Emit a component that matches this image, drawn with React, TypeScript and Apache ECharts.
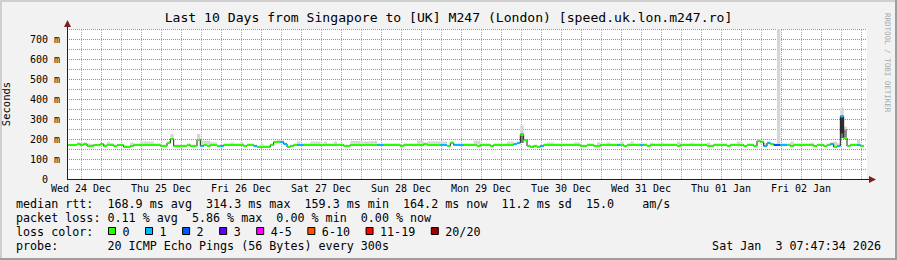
import React, { useEffect, useRef } from "react";
import * as echarts from "echarts";

// ---- data (hours since Wed 24 Dec 07:47:34) ----
const median = [
  170, 170, 170, 175, 170, 175, 165, 165, 170, 170,
  175, 165, 170, 170, 165, 170, 170, 160, 160, 165,
  170, 170, 170, 170, 170, 170, 170, 170, 165, 165,
  180, 200, 165, 165, 165, 165, 170, 165, 165, 197,
  165, 170, 165, 170, 170, 165, 165, 170, 170, 170,
  170, 170, 170, 165, 170, 170, 165, 160, 160, 160,
  160, 170, 185, 185, 185, 175, 160, 165, 170, 170,
  170, 170, 170, 170, 170, 170, 170, 170, 170, 170,
  170, 170, 170, 165, 165, 170, 170, 170, 170, 170,
  170, 170, 170, 170, 170, 170, 170, 170, 170, 170,
  165, 170, 170, 170, 170, 170, 170, 175, 170, 170,
  170, 170, 170, 170, 165, 180, 170, 170, 170, 170,
  170, 170, 170, 165, 170, 170, 170, 165, 170, 170,
  170, 170, 170, 170, 175, 180, 222, 195, 165, 160,
  165, 160, 165, 170, 170, 170, 170, 170, 170, 170,
  170, 170, 170, 170, 165, 165, 170, 170, 165, 165,
  170, 170, 170, 170, 170, 170, 170, 165, 170, 170,
  170, 170, 170, 170, 165, 170, 170, 170, 170, 170,
  170, 170, 170, 165, 170, 170, 170, 170, 170, 170,
  170, 170, 165, 165, 170, 170, 170, 170, 165, 170,
  170, 170, 170, 165, 170, 170, 165, 190, 185, 165,
  180, 175, 170, 170, 170, 170, 170, 165, 170, 170,
  170, 170, 170, 170, 165, 170, 170, 165, 170, 175,
  160, 165, 314, 205, 165, 170, 170, 170, 165,
];

const loss = [
  0, 0, 0, 0, 0, 0, 0, 0, 0, 0,
  0, 0, 0, 0, 0, 0, 0, 0, 0, 0,
  0, 0, 0, 0, 0, 0, 0, 0, 0, 0,
  0, 0, 0, 0, 0, 0, 0, 0, 0, 0,
  1, 0, 0, 0, 0, 0, 1, 0, 0, 0,
  0, 0, 0, 0, 0, 0, 1, 0, 0, 0,
  0, 0, 0, 0, 1, 1, 0, 0, 0, 1,
  1, 0, 0, 0, 0, 0, 0, 0, 0, 0,
  0, 0, 0, 0, 0, 0, 0, 0, 0, 0,
  0, 0, 0, 1, 1, 0, 0, 0, 0, 0,
  0, 0, 0, 0, 0, 0, 0, 0, 0, 0,
  0, 0, 1, 1, 0, 0, 1, 1, 1, 0,
  0, 0, 0, 0, 0, 0, 0, 0, 0, 0,
  0, 0, 0, 0, 1, 1, 0, 0, 0, 0,
  0, 0, 1, 0, 0, 0, 0, 0, 0, 0,
  0, 0, 0, 0, 0, 0, 0, 0, 0, 0,
  0, 0, 0, 0, 0, 1, 0, 0, 0, 0,
  0, 0, 1, 0, 0, 0, 0, 0, 0, 0,
  0, 0, 0, 0, 0, 0, 0, 0, 0, 0,
  0, 0, 0, 0, 0, 0, 0, 0, 0, 0,
  0, 0, 0, 0, 0, 0, 0, 0, 0, 1,
  1, 0, 2, 2, 1, 1, 0, 0, 0, 0,
  0, 0, 0, 0, 0, 0, 0, 0, 0, 1,
  0, 1, 1, 0, 0, 0, 0, 1, 0,
];

const smokeHi = [
  175, 175, 175, 183, 182, 183, 178, 175, 175, 175,
  180, 175, 185, 180, 172, 175, 175, 168, 168, 183,
  178, 178, 187, 187, 187, 187, 178, 178, 172, 172,
  188, 225, 172, 172, 172, 172, 178, 172, 172, 225,
  192, 192, 192, 185, 183, 172, 172, 178, 178, 183,
  178, 178, 183, 172, 178, 178, 172, 168, 177, 168,
  168, 178, 192, 197, 192, 182, 168, 172, 178, 188,
  178, 178, 178, 187, 187, 187, 178, 187, 178, 178,
  188, 178, 178, 172, 172, 190, 190, 190, 188, 188,
  188, 190, 190, 178, 178, 178, 178, 178, 178, 178,
  172, 178, 178, 178, 178, 192, 192, 182, 188, 188,
  188, 188, 188, 188, 172, 190, 178, 178, 178, 178,
  178, 178, 192, 192, 178, 178, 178, 172, 178, 178,
  178, 178, 187, 187, 182, 187, 268, 200, 172, 168,
  172, 168, 172, 178, 183, 183, 178, 178, 178, 178,
  178, 178, 183, 183, 172, 172, 178, 178, 172, 183,
  178, 178, 183, 178, 178, 178, 187, 172, 178, 187,
  178, 178, 178, 178, 172, 182, 178, 178, 182, 178,
  178, 178, 178, 187, 178, 178, 178, 182, 178, 178,
  178, 178, 182, 172, 178, 178, 178, 178, 172, 178,
  178, 187, 178, 172, 178, 178, 172, 198, 192, 178,
  188, 182, 178, 760, 178, 178, 178, 187, 178, 178,
  178, 178, 178, 182, 172, 178, 178, 172, 178, 183,
  188, 178, 355, 262, 172, 178, 178, 197, 172,
];

// darker core of the smoke at the spikes
const coreHours = [136, 232, 232, 233];
const coreLo = [180, 205, 228, 200];
const coreHi = [228, 312, 305, 248];
const coreShade = ["#7a7a7a", "#6e6e6e", "#2e2e2e", "#8c8c8c"];

// ---- axes ----
const majorTimes = [16.207, 40.207, 64.207, 88.207, 112.207, 136.207, 160.207, 184.207, 208.207, 232.207];
const minorTimes = [
  4.207, 10.207, 22.207, 28.207, 34.207, 46.207, 52.207, 58.207, 70.207, 76.207,
  82.207, 94.207, 100.207, 106.207, 118.207, 124.207, 130.207, 142.207, 148.207, 154.207,
  166.207, 172.207, 178.207, 190.207, 196.207, 202.207, 214.207, 220.207, 226.207, 238.207,
];
const noonTimes = [4.207, 28.207, 52.207, 76.207, 100.207, 124.207, 148.207, 172.207, 196.207, 220.207];
const dayLabels = [
  "Wed 24 Dec", "Thu 25 Dec", "Fri 26 Dec", "Sat 27 Dec", "Sun 28 Dec",
  "Mon 29 Dec", "Tue 30 Dec", "Wed 31 Dec", "Thu 01 Jan", "Fri 02 Jan",
];
const yMajor = [100, 200, 300, 400, 500, 600, 700];
const yMinor = [50, 150, 250, 350, 450, 550, 650, 750];
const yLabelValues = [0, 100, 200, 300, 400, 500, 600, 700];
const Y_GRID_STEP = 50;

// ---- legend ----
const lossLabels = ["0", "1", "2", "3", "4-5", "6-10", "11-19", "20/20"];
const lossColors = ["#26ff00", "#00b8ff", "#0059ff", "#5e00ff", "#ff00ff", "#ff5500", "#ff0000", "#a10000"];
const lossUpper = [0, 1, 2, 3, 5, 10, 19, 20];

const titleText = "Last 10 Days from Singapore to [UK] M247 (London) [speed.uk.lon.m247.ro]";
const statRows = [
  "median rtt:  168.9 ms avg  314.3 ms max  159.3 ms min  164.2 ms now  11.2 ms sd  15.0    am/s",
  "packet loss: 0.11 % avg  5.86 % max  0.00 % min  0.00 % now",
];
const probeText = "probe:       20 ICMP Echo Pings (56 Bytes) every 300s";
const dateText = "Sat Jan  3 07:47:34 2026";
const lossColorLabel = "loss color:";

const MONO = "DejaVu Sans Mono";
const X_MIN = 0, X_MAX = 240, Y_MIN = 0, Y_MAX = 750;

function lossColor(l: number) {
  for (let i = 0; i < lossUpper.length; i++) if (l <= lossUpper[i]) return lossColors[i];
  return lossColors[lossColors.length - 1];
}

export default function App() {
  const ref = useRef<HTMLDivElement>(null);
  useEffect(() => {
    if (!ref.current) return;
    const chart = echarts.init(ref.current, null, { renderer: "svg" });

    const hours = median.map((_, i) => i);
    const smokeData = hours.map((h) => [h, Math.min(median[h], smokeHi[h]), smokeHi[h]]);
    const coreData = coreHours.map((h, i) => [h, coreLo[i], coreHi[i], i]);
    const lineData: number[][] = hours.map((h) => [h, median[h]]);
    lineData.push([median.length, median[median.length - 1]]);
    const medData = hours.map((h) => [h, median[h], loss[h]]);

    const gridDot = "rgba(143,143,143,0.75)";
    const majorDot = "rgba(222,79,79,0.6)";
    const vGrid = [
      ...minorTimes.map((t) => [t, Y_MIN, 0]),
      ...majorTimes.map((t) => [t, Y_MIN, 1]),
    ];
    const hGrid = [
      ...yMinor.map((v) => [X_MIN + 1, v, 0]),
      ...yMajor.map((v) => [X_MIN + 1, v, 1]),
    ];

    // legend graphics
    const legendFont = `11.7px "${MONO}"`;
    const leftX = 16;
    const rowY = [204, 218, 232, 246];
    const g: any[] = [];
    statRows.forEach((t, i) => {
      g.push({ type: "text", x: leftX, y: rowY[i], silent: true,
        style: { text: t, font: legendFont, fill: "#000", textAlign: "left", textVerticalAlign: "middle" } });
    });
    g.push({ type: "text", x: leftX, y: rowY[2], silent: true,
      style: { text: lossColorLabel, font: legendFont, fill: "#000", textAlign: "left", textVerticalAlign: "middle" } });
    let bx = 108;
    lossLabels.forEach((lab, i) => {
      g.push({ type: "rect", silent: true, shape: { x: bx + 0.5, y: rowY[2] - 4.5, width: 7, height: 7 },
        style: { fill: lossColors[i], stroke: "#000", lineWidth: 1 } });
      g.push({ type: "text", x: bx + 14.5, y: rowY[2], silent: true,
        style: { text: lab, font: legendFont, fill: "#000", textAlign: "left", textVerticalAlign: "middle" } });
      bx += 14.5 + lab.length * 7.05 + 15.5;
    });
    g.push({ type: "text", x: leftX, y: rowY[3], silent: true,
      style: { text: probeText, font: legendFont, fill: "#000", textAlign: "left", textVerticalAlign: "middle" } });
    g.push({ type: "text", x: 881, y: rowY[3], silent: true,
      style: { text: dateText, font: legendFont, fill: "#000", textAlign: "right", textVerticalAlign: "middle" } });
    // watermark
    g.push({ type: "text", x: 887, y: 13, rotation: -Math.PI / 2, silent: true,
      style: { text: "RRDTOOL / TOBI OETIKER", font: `7.5px "${MONO}"`, fill: "#a8a8a8", textAlign: "left", textVerticalAlign: "middle" } });
    // axis lines and arrows
    g.push({ type: "line", silent: true, z: 100, shape: { x1: 67.5, y1: 179, x2: 67.5, y2: 23 }, style: { stroke: "#1f1f1f", lineWidth: 1 } });
    g.push({ type: "line", silent: true, z: 100, shape: { x1: 67, y1: 179.5, x2: 871, y2: 179.5 }, style: { stroke: "#1f1f1f", lineWidth: 1 } });
    g.push({ type: "polygon", silent: true, z: 100, shape: { points: [[64, 27], [71, 27], [67.5, 20]] }, style: { fill: "#801f1f" } });
    g.push({ type: "polygon", silent: true, z: 100, shape: { points: [[869, 176], [869, 183], [876, 179.5]] }, style: { fill: "#801f1f" } });
    // frame
    g.push({ type: "rect", silent: true, shape: { x: 0, y: 0, width: 897, height: 2 }, style: { fill: "#cfcfcf" } });
    g.push({ type: "rect", silent: true, shape: { x: 0, y: 0, width: 2, height: 260 }, style: { fill: "#cfcfcf" } });
    g.push({ type: "rect", silent: true, shape: { x: 0, y: 258, width: 897, height: 2 }, style: { fill: "#9e9e9e" } });
    g.push({ type: "rect", silent: true, shape: { x: 895, y: 0, width: 2, height: 260 }, style: { fill: "#9e9e9e" } });

    chart.setOption({
      animation: false,
      backgroundColor: "#f2f2f2",
      title: {
        text: titleText, left: "center", top: 11, padding: 0,
        textStyle: { fontFamily: MONO, fontSize: 13.1, fontWeight: "normal", color: "#000" },
      },
      grid: {
        left: 67, top: 29, width: 800, height: 150, show: true, backgroundColor: "#ffffff", borderWidth: 0,
        containLabel: false, outerBoundsMode: "none",
      },
      xAxis: {
        type: "value", min: X_MIN, max: X_MAX, position: "bottom",
        axisLine: { show: false }, axisTick: { show: false }, splitLine: { show: false },
        axisLabel: { show: true, customValues: noonTimes, margin: 4, lineHeight: 10, color: "#000", fontFamily: MONO, fontSize: 10,
          formatter: (v: number) => {
            const i = noonTimes.findIndex((t) => Math.abs(t - v) < 0.01);
            return i >= 0 ? dayLabels[i] : "";
          } },
      },
      yAxis: {
        type: "value", min: Y_MIN, max: Y_MAX, interval: Y_GRID_STEP, position: "left",
        axisLine: { show: false }, axisTick: { show: false },
        splitLine: { show: true, lineStyle: { color: [majorDot, gridDot], type: [1, 1], width: 1 } },
        name: "Seconds", nameLocation: "middle", nameRotate: 90, nameGap: 56,
        nameTextStyle: { fontFamily: MONO, fontSize: 10.5, color: "#000" },
        axisLabel: { show: true, customValues: yLabelValues, margin: 7, lineHeight: 8, color: "#000", fontFamily: MONO, fontSize: 10,
          formatter: (v: number) => (v === 0 ? "0\u00a0\u00a0" : v + "\u00a0m") },
      },
      graphic: g,
      series: [
        {
          type: "custom", name: "vgrid", silent: true, clip: false, z: 1,
          data: vGrid, encode: { x: 0, y: 1 },
          renderItem: (_p: any, api: any) => {
            const xv = api.value(0), k = api.value(2);
            const a = api.coord([xv, Y_MIN]);
            const b = api.coord([xv, Y_MAX]);
            const x = Math.floor(a[0]) + 0.5;
            return { type: "line", shape: { x1: x, y1: a[1], x2: x, y2: b[1] },
              style: { stroke: k ? majorDot : gridDot, lineWidth: 1, lineDash: [1, 1], fill: null } };
          },
        },
        {
          type: "custom", name: "hgrid", silent: true, clip: false, z: 1,
          data: hGrid, encode: { x: 0, y: 1 },
          renderItem: (_p: any, api: any) => {
            const yv = api.value(1), k = api.value(2);
            const a = api.coord([X_MIN, yv]);
            const b = api.coord([X_MAX, yv]);
            const y = Math.floor(a[1]) + 0.5;
            return { type: "line", shape: { x1: a[0], y1: y, x2: b[0], y2: y },
              style: { stroke: k ? majorDot : gridDot, lineWidth: 1, lineDash: [1, 1], fill: null } };
          },
        },
        {
          type: "custom", name: "smoke", clip: true, silent: true, z: 2,
          data: smokeData,
          renderItem: (_p: any, api: any) => {
            const h = api.value(0), lo = api.value(1), hi = api.value(2);
            const a = api.coord([h, hi]);
            const b = api.coord([h + 1, lo]);
            return { type: "rect", shape: { x: a[0], y: a[1], width: b[0] - a[0], height: b[1] - a[1] },
              style: { fill: "#d6d6d6" } };
          },
        },
        {
          type: "custom", name: "smoke core", clip: true, silent: true, z: 2,
          data: coreData,
          renderItem: (_p: any, api: any) => {
            const h = api.value(0), lo = api.value(1), hi = api.value(2), k = api.value(3);
            const a = api.coord([h, hi]);
            const b = api.coord([h + 1, lo]);
            return { type: "rect", shape: { x: a[0], y: a[1], width: b[0] - a[0], height: b[1] - a[1] },
              style: { fill: coreShade[k] } };
          },
        },
        {
          type: "line", name: "median", step: "end", symbol: "none", silent: true, z: 3,
          data: lineData, lineStyle: { color: "#202020", width: 1 },
        },
        {
          type: "custom", name: "median loss color", clip: true, silent: true, z: 4,
          data: medData,
          renderItem: (_p: any, api: any) => {
            const h = api.value(0), v = api.value(1), l = api.value(2);
            const a = api.coord([h, v]);
            const b = api.coord([h + 1, v]);
            const y = Math.round(a[1]) - 1;
            return { type: "rect", shape: { x: a[0], y, width: b[0] - a[0], height: 2 },
              style: { fill: lossColor(l) } };
          },
        },
      ],
    });

    return () => chart.dispose();
  }, []);
  return <div ref={ref} style={{ position: "fixed", left: 0, top: 0, width: 897, height: 260 }} />;
}
